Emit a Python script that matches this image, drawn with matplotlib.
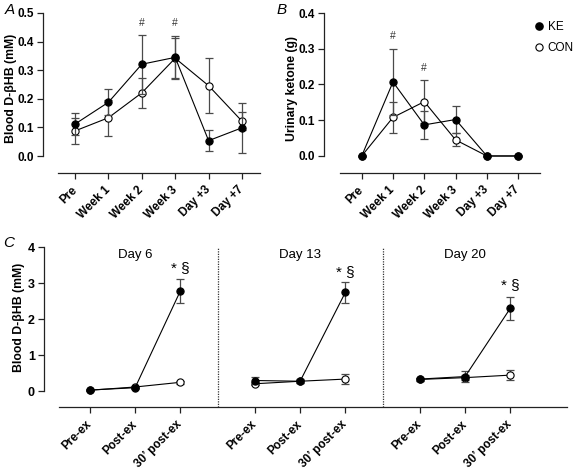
import matplotlib
matplotlib.use("Agg")
import matplotlib.pyplot as plt
import numpy as np

plt.rcParams['font.family'] = ['Liberation Sans', 'DejaVu Sans']

# ---- Panel A: Blood D-βHB over weeks ----
tp_labels = ["Pre", "Week 1", "Week 2", "Week 3", "Day +3", "Day +7"]
a_ke = [0.112, 0.188, 0.321, 0.345, 0.054, 0.099]
a_ke_err = [0.037, 0.045, 0.103, 0.075, 0.037, 0.088]
a_con = [0.088, 0.134, 0.221, 0.342, 0.246, 0.122]
a_con_err = [0.045, 0.063, 0.052, 0.07, 0.097, 0.031]
a_hash_idx = [2, 3]

# ---- Panel B: Urinary ketone ----
b_ke = [0.0, 0.207, 0.087, 0.102, 0.0, 0.0]
b_ke_err = [0.0, 0.093, 0.04, 0.039, 0.0, 0.0]
b_con = [0.0, 0.108, 0.152, 0.045, 0.0, 0.0]
b_con_err = [0.0, 0.043, 0.06, 0.018, 0.0, 0.0]
b_hash_idx = [1, 2]

# ---- Panel C: Exercise days ----
c_days = ["Day 6", "Day 13", "Day 20"]
c_tp = ["Pre-ex", "Post-ex", "30\u2019 post-ex"]
c_ke = [[0.036, 0.10, 2.79], [0.30, 0.28, 2.75], [0.34, 0.41, 2.31]]
c_ke_err = [[0.03, 0.03, 0.33], [0.10, 0.05, 0.30], [0.04, 0.15, 0.32]]
c_con = [[0.03, 0.12, 0.25], [0.21, 0.28, 0.34], [0.33, 0.38, 0.45]]
c_con_err = [[0.02, 0.03, 0.04], [0.04, 0.04, 0.13], [0.03, 0.06, 0.13]]
c_sig_y = [3.43, 3.32, 2.95]

W, H = 577, 470
fig = plt.figure(figsize=(W / 100, H / 100), dpi=100)

def fax(l, r, t, b):
    return fig.add_axes([l / W, 1 - b / H, (r - l) / W, (b - t) / H])

ERRC = '#4a4a4a'
LW = 0.8
MS = 5.2

def plot_series(ax, x, y, e, filled, z):
    ax.errorbar(x, y, yerr=e, fmt='none', ecolor=ERRC, elinewidth=0.9,
                capsize=2.6, capthick=0.9, zorder=z)
    ax.plot(x, y, '-', color='black', lw=LW, zorder=z + 0.5)
    ax.plot(x, y, 'o', ms=MS, mfc='black' if filled else 'white',
            mec='black', mew=0.8, zorder=z + 1, clip_on=False)

def style_axes(ax, ybounds, xbounds, ylabsize=8.5):
    for s in ['top', 'right']:
        ax.spines[s].set_visible(False)
    ax.spines['left'].set_bounds(*ybounds)
    ax.spines['bottom'].set_bounds(*xbounds)
    for s in ['left', 'bottom']:
        ax.spines[s].set_linewidth(0.9)
        ax.spines[s].set_color('#222222')
    ax.tick_params(axis='both', direction='out', length=4, width=0.9,
                   color='#222222')
    ax.tick_params(axis='y', labelsize=ylabsize, pad=2.5)
    ax.tick_params(axis='x', pad=7)
    for lab in ax.get_yticklabels():
        lab.set_fontweight('bold')

def set_xlabels(ax, xs, labels):
    ax.set_xticks(xs)
    ax.set_xticklabels(labels, rotation=45, ha='right', va='center',
                       rotation_mode='anchor', fontweight='bold', fontsize=8.5)

# Panel A
axA = fax(43, 260, 13, 173)
x6 = np.arange(len(tp_labels))
plot_series(axA, x6, a_con, a_con_err, False, 3)
plot_series(axA, x6, a_ke, a_ke_err, True, 5)
axA.set_xlim((43 - 75) / 33.4, (260 - 75) / 33.4)
axA.set_ylim(-0.059, 0.5)
axA.set_yticks([0.0, 0.1, 0.2, 0.3, 0.4, 0.5])
axA.set_yticklabels([f"{v:.1f}" for v in [0.0, 0.1, 0.2, 0.3, 0.4, 0.5]])
set_xlabels(axA, x6, tp_labels)
style_axes(axA, (0, 0.5), ((58 - 75) / 33.4, (260 - 75) / 33.4))
axA.set_ylabel("Blood D-\u03b2HB (mM)", fontsize=8.8, fontweight='bold')
axA.yaxis.set_label_coords((17 - 43) / 217, 0.53)
for i in a_hash_idx:
    axA.text(i, 0.447, "#", ha='center', va='bottom', fontsize=7.5, color='#333333')

# Panel B
axB = fax(324, 540, 13, 173)
plot_series(axB, x6, b_con, b_con_err, False, 3)
plot_series(axB, x6, b_ke, b_ke_err, True, 5)
axB.set_xlim((324 - 361.7) / 31.3, (540 - 361.7) / 31.3)
axB.set_ylim(-0.0476, 0.4)
axB.set_yticks([0.0, 0.1, 0.2, 0.3, 0.4])
axB.set_yticklabels([f"{v:.1f}" for v in [0.0, 0.1, 0.2, 0.3, 0.4]])
set_xlabels(axB, x6, tp_labels)
style_axes(axB, (0, 0.4), ((340 - 361.7) / 31.3, (540 - 361.7) / 31.3))
axB.set_ylabel("Urinary ketone (g)", fontsize=8.8, fontweight='bold')
axB.yaxis.set_label_coords((298 - 324) / 216, 0.53)
b_hash_y = [0.322, 0.232]
for i, yy in zip(b_hash_idx, b_hash_y):
    axB.text(i, yy, "#", ha='center', va='bottom', fontsize=7.5, color='#333333')

# Legend
axB.plot([], [], 'o', ms=MS, mfc='black', mec='black', label='KE')
axB.plot([], [], 'o', ms=MS, mfc='white', mec='black', mew=0.8, label='CON')
fig.legend(*axB.get_legend_handles_labels(), loc='upper left',
           bbox_to_anchor=(530 / W, 1 - 15 / H), frameon=False, fontsize=8.5,
           handlelength=0.6, handletextpad=0.4, labelspacing=0.75, borderpad=0)

# Panel C
STEP = 45.3
X0 = 89.8
axC = fax(44, 566.6, 247.3, 407.3)
gap = 165 / STEP
xs_all, labs_all = [], []
for g in range(3):
    xs = np.arange(3) + g * gap
    plot_series(axC, xs, c_con[g], c_con_err[g], False, 3)
    plot_series(axC, xs, c_ke[g], c_ke_err[g], True, 5)
    axC.text(xs[1], 3.8, c_days[g], ha='center', va='center', fontsize=9.5)
    axC.text(xs[2], c_sig_y[g], "* \u00a7", ha='center', va='center', fontsize=11)
    xs_all += list(xs)
    labs_all += c_tp
for sx in [(218.2 - X0) / STEP, (383.2 - X0) / STEP]:
    axC.plot([sx, sx], [-0.444, 4.0], ls=(0, (1, 1)), color='#333333', lw=0.9,
             clip_on=False)
axC.set_xlim((44 - X0) / STEP, (566.6 - X0) / STEP)
axC.set_ylim(-0.444, 4)
axC.set_yticks([0, 1, 2, 3, 4])
set_xlabels(axC, xs_all, labs_all)
style_axes(axC, (0, 4), ((58.7 - X0) / STEP, (566.6 - X0) / STEP), ylabsize=9)
axC.set_ylabel("Blood D-\u03b2HB (mM)", fontsize=8.8, fontweight='bold')
axC.yaxis.set_label_coords((25 - 44) / 522.6, 0.56)

# Panel labels
fig.text(5 / W, 1 - 10 / H, "A", fontsize=11, style='italic', va='center')
fig.text(277 / W, 1 - 10 / H, "B", fontsize=11, style='italic', va='center')
fig.text(3 / W, 1 - 243 / H, "C", fontsize=11, style='italic', va='center')

fig.savefig("out.png", dpi=100)
